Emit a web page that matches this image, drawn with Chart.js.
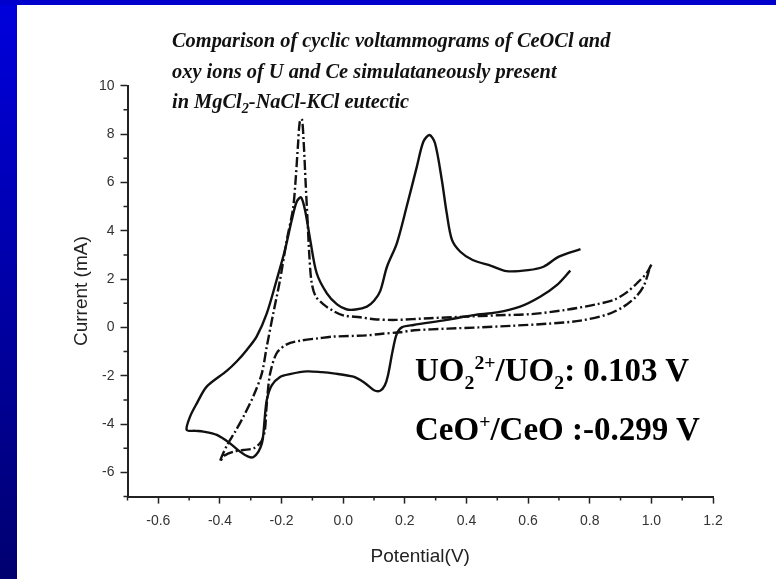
<!DOCTYPE html>
<html>
<head>
<meta charset="utf-8">
<script src="https://cdn.jsdelivr.net/npm/chart.js@4.4.0/dist/chart.umd.min.js"></script>
<style>
  html, body { margin: 0; padding: 0; background: #fff; }
  #frame { position: relative; width: 776px; height: 579px; overflow: hidden; background: #fff; }
  #leftBar { position: absolute; left: 0; top: 0; width: 17px; height: 579px; background: linear-gradient(#0000dd, #000070); }
  #topBar { position: absolute; left: 0; top: 0; width: 776px; height: 5px; background: #0000cc; }
  canvas { position: absolute; left: 0; top: 0; }
  .title { position: absolute; left: 172px; font-family: "Liberation Serif", serif; font-style: italic; font-weight: bold; font-size: 20.4px; line-height: 24px; color: #111; white-space: nowrap; }
  .note { position: absolute; left: 415px; font-family: "Liberation Serif", serif; font-weight: bold; font-size: 33px; line-height: 33px; color: #000; white-space: nowrap; }
  .note sub, .note sup { font-size: 0.6em; line-height: 0; }
  .title sub { font-size: 0.7em; line-height: 0; }
</style>
</head>
<body>
<div id="frame">
  <div id="leftBar"></div>
  <div id="topBar"></div>
  <canvas id="cvChart" width="776" height="579"></canvas>
  <div class="title" style="top:28px">Comparison of cyclic voltammograms of CeOCl and</div>
  <div class="title" style="top:59px">oxy ions of U and Ce simulataneously present</div>
  <div class="title" style="top:89px">in MgCl<sub>2</sub>-NaCl-KCl eutectic</div>
  <div class="note" style="top:354px">UO<sub>2</sub><sup>2+</sup>/UO<sub>2</sub>: 0.103 V</div>
  <div class="note" style="top:413px">CeO<sup>+</sup>/CeO :-0.299 V</div>
</div>
<script>
// solid curve (U + Ce oxy ions), in scan order
const solidV = [0.77, 0.70, 0.65, 0.60, 0.53, 0.48, 0.42, 0.38, 0.353, 0.336, 0.32, 0.298, 0.28, 0.26, 0.239, 0.206, 0.174, 0.142,
  0.12, 0.10, 0.077, 0.04, 0.01, -0.02, -0.053, -0.086, -0.107, -0.124, -0.137, -0.151, -0.167, -0.189, -0.216, -0.248, -0.281,
  -0.313, -0.345, -0.378, -0.443, -0.475, -0.497, -0.508, -0.48, -0.454, -0.41, -0.367, -0.335, -0.308, -0.292, -0.275, -0.264,
  -0.259, -0.255, -0.248, -0.232, -0.205, -0.173, -0.118, -0.07, -0.032, 0.033, 0.07, 0.10, 0.12, 0.135, 0.145, 0.16, 0.173,
  0.19, 0.228, 0.336, 0.423, 0.499, 0.574, 0.639, 0.694, 0.737];
const solidI = [3.24, 2.93, 2.51, 2.37, 2.33, 2.55, 2.79, 3.13, 3.62, 4.72, 6.10, 7.62, 7.96, 7.68, 6.65, 5.0, 3.48, 2.51,
  1.5, 1.1, 0.86, 0.74, 0.75, 0.95, 1.41, 2.24, 3.62, 4.86, 5.38, 5.20, 4.44, 3.20, 1.96, 0.58, -0.38,
  -0.93, -1.4, -1.8, -2.45, -3.14, -3.69, -4.24, -4.28, -4.31, -4.45, -4.80, -5.14, -5.35, -5.37, -5.14, -4.80,
  -4.39, -3.8, -3.0, -2.4, -2.05, -1.93, -1.82, -1.85, -1.90, -2.04, -2.3, -2.6, -2.62, -2.4, -2.0, -1.0, -0.3,
  0.0, 0.10, 0.31, 0.51, 0.62, 0.86, 1.27, 1.76, 2.35];

// dash-dot curve (CeOCl), in scan order
const dashV = [1.0, 0.986, 0.955, 0.92, 0.88, 0.82, 0.72, 0.61, 0.50, 0.39, 0.28, 0.17, 0.10, 0.055, 0.0, -0.032, -0.064,
  -0.09, -0.103, -0.11, -0.116, -0.122, -0.128, -0.134, -0.141, -0.147, -0.155, -0.163, -0.183, -0.205, -0.227, -0.248,
  -0.264, -0.29, -0.32, -0.35, -0.378, -0.40, -0.385, -0.356, -0.324, -0.29, -0.265, -0.254, -0.25, -0.245, -0.237,
  -0.216, -0.183, -0.14, -0.08, -0.032, 0.077, 0.12, 0.185, 0.23, 0.34, 0.44, 0.55, 0.66, 0.77, 0.86, 0.91, 0.95, 0.975, 0.996];
const dashI = [2.6, 2.27, 1.85, 1.45, 1.15, 0.95, 0.72, 0.55, 0.50, 0.44, 0.38, 0.31, 0.34, 0.42, 0.5, 0.68, 0.95,
  1.3, 1.9, 3.0, 4.5, 6.0, 7.6, 8.62, 8.5, 7.5, 6.0, 4.9, 3.62, 1.96, 0.58, -0.79,
  -1.90, -2.8, -3.6, -4.3, -4.9, -5.55, -5.3, -5.14, -5.07, -5.0, -4.7, -4.24, -3.5, -2.7, -1.90,
  -1.07, -0.70, -0.55, -0.45, -0.38, -0.33, -0.27, -0.2, -0.12, -0.05, 0.0, 0.07, 0.15, 0.28, 0.55, 0.86, 1.27, 1.71, 2.5];

// axes
const xTickVals = [-0.6, -0.4, -0.2, 0.0, 0.2, 0.4, 0.6, 0.8, 1.0, 1.2];
const yTickVals = [-6, -4, -2, 0, 2, 4, 6, 8, 10];
const xRange = [-0.7, 1.2];
const yRange = [-7, 10];

const toPoints = (xs, ys) => xs.map((x, i) => ({ x: x, y: ys[i] }));

// short minor ticks between the labelled ones
const minorTicks = {
  id: 'minorTicks',
  afterDraw(chart) {
    const { ctx, scales: { x, y } } = chart;
    ctx.save();
    ctx.strokeStyle = '#222';
    ctx.lineWidth = 1.5;
    ctx.beginPath();
    for (let v = xRange[0]; v <= xRange[1] + 1e-6; v += 0.2) {
      const px = x.getPixelForValue(v);
      ctx.moveTo(px, y.bottom);
      ctx.lineTo(px, y.bottom + 4);
    }
    for (let v = yRange[0]; v <= yRange[1]; v += 2) {
      const py = y.getPixelForValue(v);
      ctx.moveTo(x.left, py);
      ctx.lineTo(x.left - 4, py);
    }
    ctx.stroke();
    ctx.restore();
  }
};

const ctx = document.getElementById('cvChart').getContext('2d');
new Chart(ctx, {
  type: 'scatter',
  data: {
    datasets: [
      {
        label: 'U + Ce',
        data: toPoints(solidV, solidI),
        showLine: true,
        borderColor: '#111',
        borderWidth: 2.4,
        pointRadius: 0,
        tension: 0.3,
        fill: false
      },
      {
        label: 'CeOCl',
        data: toPoints(dashV, dashI),
        showLine: true,
        borderColor: '#111',
        borderWidth: 2.4,
        borderDash: [10, 3, 2, 3],
        pointRadius: 0,
        tension: 0.3,
        fill: false
      }
    ]
  },
  options: {
    responsive: false,
    animation: false,
    layout: { padding: { left: 40, top: 85.7, right: 63, bottom: 0 } },
    plugins: {
      legend: { display: false },
      tooltip: { enabled: false }
    },
    scales: {
      x: {
        type: 'linear',
        min: xRange[0],
        max: xRange[1],
        afterBuildTicks: s => { s.ticks = xTickVals.map(v => ({ value: v })); },
        afterFit: s => { s.height = 82.4; },
        border: { display: true, color: '#222', width: 2 },
        grid: { drawOnChartArea: false, drawTicks: true, tickLength: 7, tickColor: '#222', tickWidth: 1.5 },
        ticks: {
          color: '#333',
          padding: 9,
          maxRotation: 0,
          font: { family: 'Liberation Sans', size: 14 },
          callback: v => Number(v).toFixed(1)
        },
        title: {
          display: true,
          text: 'Potential(V)',
          color: '#222',
          font: { family: 'Liberation Sans', size: 19 },
          padding: { top: 0, bottom: 11 }
        }
      },
      y: {
        type: 'linear',
        min: yRange[0],
        max: yRange[1],
        afterBuildTicks: s => { s.ticks = yTickVals.map(v => ({ value: v })); },
        afterFit: s => { s.width = 87.5; },
        border: { display: true, color: '#222', width: 2 },
        grid: { drawOnChartArea: false, drawTicks: true, tickLength: 7, tickColor: '#222', tickWidth: 1.5 },
        ticks: {
          color: '#333',
          padding: 6,
          font: { family: 'Liberation Sans', size: 14 },
          callback: v => String(v)
        },
        title: {
          display: true,
          text: 'Current (mA)',
          color: '#222',
          font: { family: 'Liberation Sans', size: 19 },
          padding: { top: 30, bottom: 0 }
        }
      }
    }
  },
  plugins: [minorTicks]
});
</script>
</body>
</html>
